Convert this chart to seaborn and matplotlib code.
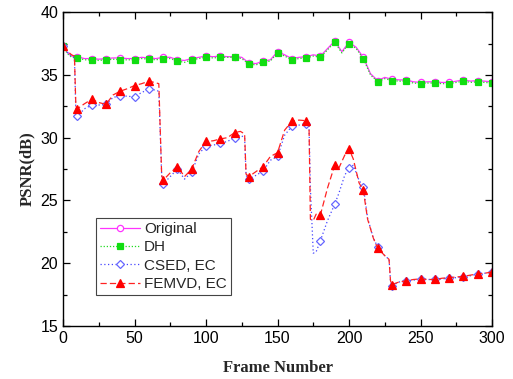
import numpy as np
import pandas as pd
import matplotlib
matplotlib.use("Agg")
import matplotlib.pyplot as plt
from matplotlib.ticker import MultipleLocator
import seaborn as sns

# --- data ---
frames_hi = [0, 3, 6, 10, 15, 20, 25, 30, 35, 40, 45, 50, 55, 60, 65, 70, 75, 80, 85, 90,
             95, 100, 105, 110, 115, 120, 125, 130, 135, 140, 145, 150, 155, 160, 165, 170,
             175, 180, 185, 190, 195, 200, 205, 210, 215, 220, 225, 230, 235, 240, 245, 250,
             255, 260, 265, 270, 275, 280, 285, 290, 295, 300]
psnr_dh = [37.3, 36.7, 36.4, 36.35, 36.2, 36.2, 36.15, 36.2, 36.25, 36.2, 36.2, 36.2, 36.3, 36.25, 36.2, 36.3, 36.3, 36.1, 36.0, 36.2,
           36.3, 36.4, 36.35, 36.4, 36.4, 36.4, 36.3, 35.85, 35.8, 36.0, 36.1, 36.75, 36.5, 36.2, 36.3, 36.35,
           36.5, 36.4, 37.0, 37.6, 36.75, 37.5, 37.1, 36.3, 35.0, 34.45, 34.7, 34.55, 34.5, 34.5, 34.35, 34.3,
           34.35, 34.35, 34.3, 34.3, 34.4, 34.5, 34.4, 34.45, 34.4, 34.35]
psnr_orig = [37.3, 36.8, 36.5, 36.45, 36.3, 36.3, 36.25, 36.3, 36.35, 36.35, 36.3, 36.3, 36.4, 36.35, 36.3, 36.4, 36.4, 36.2, 36.15, 36.3,
             36.4, 36.5, 36.45, 36.5, 36.45, 36.45, 36.4, 35.95, 35.9, 36.1, 36.2, 36.85, 36.6, 36.3, 36.4, 36.45,
             36.6, 36.5, 37.1, 37.7, 36.85, 37.6, 37.2, 36.4, 35.1, 34.55, 34.8, 34.65, 34.6, 34.6, 34.45, 34.4,
             34.45, 34.45, 34.4, 34.4, 34.5, 34.6, 34.5, 34.55, 34.5, 34.45]

frames_lo = [0, 3, 6, 8, 9, 10, 15, 20, 25, 30, 35, 40, 45, 50, 55, 60, 64, 67, 69, 70,
             75, 80, 85, 90, 95, 100, 105, 110, 115, 120, 124, 127, 128, 130, 135, 140, 145,
             150, 155, 160, 165, 170, 172, 173, 175, 177, 180, 185, 190, 193, 197, 200, 203,
             207, 210, 213, 217, 220, 225, 228, 229, 230, 235, 240, 245, 250, 255, 260, 265,
             270, 275, 280, 285, 290, 295, 300]
psnr_csed = [37.3, 36.8, 36.5, 36.4, 31.9, 31.7, 32.3, 32.6, 32.6, 32.65, 33.2, 33.35, 33.3, 33.25, 33.6, 33.85, 33.8, 33.7, 27.0, 26.3,
             26.9, 27.5, 26.7, 27.25, 28.7, 29.35, 29.4, 29.55, 29.7, 30.0, 30.2, 30.0, 27.0, 26.7, 27.0, 27.35, 28.2,
             28.5, 30.2, 30.9, 31.0, 31.1, 31.0, 26.0, 20.8, 20.9, 21.8, 23.4, 24.7, 25.6, 27.0, 27.6, 27.8,
             26.6, 26.1, 23.6, 22.0, 21.3, 20.6, 20.3, 18.6, 18.2, 18.5, 18.6, 18.65, 18.75, 18.7, 18.7, 18.75,
             18.8, 18.85, 18.9, 19.0, 19.15, 19.2, 19.3]
psnr_femvd = [37.3, 36.9, 36.6, 36.5, 32.5, 32.3, 32.7, 33.05, 32.8, 32.65, 33.4, 33.7, 33.9, 34.15, 34.3, 34.5, 34.4, 34.3, 27.0, 26.6,
              27.2, 27.7, 26.9, 27.5, 28.9, 29.7, 29.75, 29.9, 30.0, 30.4, 30.5, 30.3, 27.1, 26.9, 27.3, 27.7, 28.5,
              28.8, 30.6, 31.3, 31.4, 31.35, 31.2, 23.5, 23.4, 23.9, 23.85, 26.0, 27.8, 27.6, 28.6, 29.1, 28.3,
              26.4, 25.8, 23.5, 22.0, 21.2, 20.6, 20.3, 18.6, 18.3, 18.5, 18.6, 18.7, 18.75, 18.7, 18.7, 18.8,
              18.85, 18.9, 18.95, 19.05, 19.15, 19.2, 19.3]

sns.set_style("ticks")
plt.rcParams['font.family'] = ['Liberation Sans', 'DejaVu Sans']

fig = plt.figure(figsize=(5.13, 3.79), dpi=100)
ax = fig.add_axes([0.1228, 0.140, 0.8363, 0.828])


def marker_idx(frames):
    # markers only on every 10th frame
    return [i for i, f in enumerate(frames) if f % 10 == 0]


series = [
    ("Original", frames_hi, psnr_orig, dict(color="#ff33ff", linestyle="-", marker="o",
                                             markerfacecolor="white", markeredgecolor="#ff33ff", markersize=4.5)),
    ("DH", frames_hi, psnr_dh, dict(color="#22dd22", linestyle=(0, (1, 1.5)), marker="s",
                                    markerfacecolor="#11dd11", markeredgecolor="#11dd11", markersize=4.5)),
    ("CSED, EC", frames_lo, psnr_csed, dict(color="#4444ff", linestyle=(0, (1, 2)), marker="D",
                                            markerfacecolor="white", markeredgecolor="#6666ff", markersize=4.5)),
    ("FEMVD, EC", frames_lo, psnr_femvd, dict(color="#ff2222", linestyle=(0, (5, 2.5)), marker="^",
                                              markerfacecolor="red", markeredgecolor="red", markersize=5.5)),
]

for name, fr, vals, style in series:
    df = pd.DataFrame({"frame": fr, "psnr": vals})
    sns.lineplot(data=df, x="frame", y="psnr", ax=ax, label=name, linewidth=0.9,
                 markevery=marker_idx(fr), markeredgewidth=0.9, **style)

ax.set_xlim(0, 300)
ax.set_ylim(15, 40)
ax.xaxis.set_major_locator(MultipleLocator(50))
ax.xaxis.set_minor_locator(MultipleLocator(25))
ax.yaxis.set_major_locator(MultipleLocator(5))
ax.yaxis.set_minor_locator(MultipleLocator(2.5))
ax.tick_params(which="both", direction="in", top=True, right=True, colors="black", labelsize=11.5)
ax.tick_params(which="major", length=5, width=0.9)
ax.tick_params(which="minor", length=3, width=0.9)
for sp in ax.spines.values():
    sp.set_linewidth(1.0)
    sp.set_color("black")

ax.set_xlabel("Frame Number", fontfamily="Liberation Serif", fontweight="bold", fontsize=12, labelpad=10)
ax.set_ylabel("PSNR(dB)", fontfamily="Liberation Serif", fontweight="bold", fontsize=12, labelpad=4)

leg = ax.legend(loc="lower left", bbox_to_anchor=(0.077, 0.099), borderaxespad=0, fontsize=11,
                fancybox=False, framealpha=1, edgecolor="#444444", handlelength=2.6,
                handletextpad=0.3, borderpad=0.25, labelspacing=0.28)
leg.get_frame().set_linewidth(0.8)

fig.savefig("out.png", dpi=100)
